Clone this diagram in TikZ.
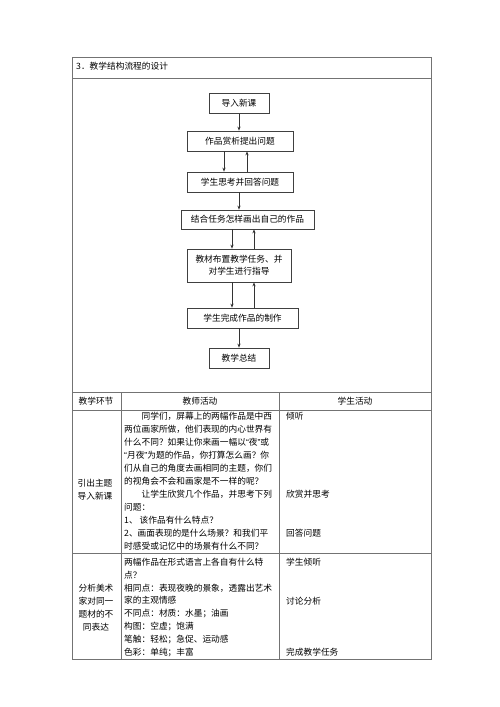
\documentclass[tikz,border=0pt]{standalone}
\usepackage{fontspec}
\setmainfont{Noto Sans CJK SC}
\newfontfamily\quotefont{Liberation Sans}
\usetikzlibrary{
	arrows.meta,
	positioning
}

\begin{document}
\begin{tikzpicture}[x=1pt, y=-1pt,
	flowbox/.style={draw=black!75, line width=0.7pt, inner sep=0pt, minimum height=20pt, align=center, font=\fontsize{8.7}{12}\selectfont},
	flowarrow/.style={-{Stealth[length=4pt,width=3.2pt]}, black!80, line width=0.7pt},
	rule/.style={draw=black!55, line width=0.8pt},
	tline/.style={anchor=west, inner sep=0pt, text height=7.6pt, text depth=1.1pt, font=\fontsize{8.7}{12}\selectfont},
	hcell/.style={tline, anchor=center}
]
	\useasboundingbox (0,0) rectangle (500,707);
	% table frame
	\draw[rule] (72,57) rectangle (431,659);
	\draw[rule] (72,78) -- (431,78);
	\draw[rule] (72,392) -- (431,392);
	\draw[rule] (72,410) -- (431,410);
	\draw[rule] (72,553) -- (431,553);
	\draw[rule] (121,392) -- (121,659);
	\draw[rule] (279,392) -- (279,659);
	\node[tline] (title) at (76,66) {3．教学结构流程的设计};
	% flow chart
	\node[flowbox, minimum width=60pt] (intro) at (239,103.5) {导入新课};
	\node[flowbox, minimum width=106pt] (appreciate) at (240,141) {作品赏析提出问题};
	\node[flowbox, minimum width=106pt] (think) at (240,182) {学生思考并回答问题};
	\node[flowbox, minimum width=133pt, minimum height=19pt] (combine) at (247.5,219.5) {结合任务怎样画出自己的作品};
	\node[flowbox, minimum width=104pt, minimum height=33pt] (assign) at (239,265.5) {教材布置教学任务、并\\对学生进行指导};
	\node[flowbox, minimum width=111pt] (make) at (242.5,318) {学生完成作品的制作};
	\node[flowbox, minimum width=60pt] (summary) at (239,358) {教学总结};
	\draw[flowarrow] (intro.south) -- (intro.south |- appreciate.north);
	\draw[flowarrow] ([xshift=-16pt]appreciate.south) -- ([xshift=-16pt]appreciate.south |- think.north);
	\draw[flowarrow] ([xshift=7pt]think.north) -- ([xshift=7pt]think.north |- appreciate.south);
	\draw[flowarrow] ([xshift=-1pt]think.south) -- ([xshift=-1pt]think.south |- combine.north);
	\draw[flowarrow] ([xshift=-7pt]assign.north |- combine.south) -- ([xshift=-7pt]assign.north);
	\draw[flowarrow] ([xshift=15pt]assign.north) -- ([xshift=15pt]assign.north |- combine.south);
	\draw[flowarrow] ([xshift=-7pt]assign.south) -- ([xshift=-7pt]assign.south |- make.north);
	\draw[flowarrow] ([xshift=15pt]assign.south |- make.north) -- ([xshift=15pt]assign.south);
	\draw[flowarrow] (summary.north |- make.south) -- (summary.north);
	% header row
	\foreach \x/\t [count=\i] in {96/教学环节, 200/教师活动, 355/学生活动}
		\node[hcell] (head\i) at (\x,401) {\t};
	% first row
	\foreach \t [count=\i from 0] in {引出主题, 导入新课}
		\node[hcell] (stagea\i) at (95,483+13*\i) {\t};
	\foreach \t [count=\i from 0] in {
		\hspace*{2em}同学们，屏幕上的两幅作品是中西,
		两位画家所做，他们表现的内心世界有,
		什么不同？如果让你来画一幅以{\quotefont “}夜{\quotefont ”}或,
		{\quotefont “}月夜{\quotefont ”}为题的作品，你打算怎么画？你,
		们从自己的角度去画相同的主题，你们,
		的视角会不会和画家是不一样的呢？,
		\hspace*{2em}让学生欣赏几个作品，并思考下列,
		问题：,
		1、 该作品有什么特点？,
		2、画面表现的是什么场景？和我们平,
		时感受或记忆中的场景有什么不同？}
		\node[tline] (teacha\i) at (124,416+13*\i) {\t};
	\foreach \y/\t [count=\i] in {416/倾听, 494/欣赏并思考, 533/回答问题}
		\node[tline] (studa\i) at (286,\y) {\t};
	% second row
	\foreach \t [count=\i from 0] in {分析美术, 家对同一, 题材的不, 同表达}
		\node[hcell] (stageb\i) at (96,588+13*\i) {\t};
	\foreach \t [count=\i from 0] in {
		两幅作品在形式语言上各自有什么特,
		点？,
		相同点：表现夜晚的景象，透露出艺术,
		家的主观情感,
		不同点：材质：水墨；油画,
		构图：空虚；饱满,
		笔触：轻松；急促、运动感,
		色彩：单纯；丰富}
		\node[tline] (teachb\i) at (124,562+12.9*\i) {\t};
	\foreach \y/\t [count=\i] in {562/学生倾听, 601/讨论分析, 652/完成教学任务}
		\node[tline] (studb\i) at (286,\y) {\t};
\end{tikzpicture}
\end{document}
